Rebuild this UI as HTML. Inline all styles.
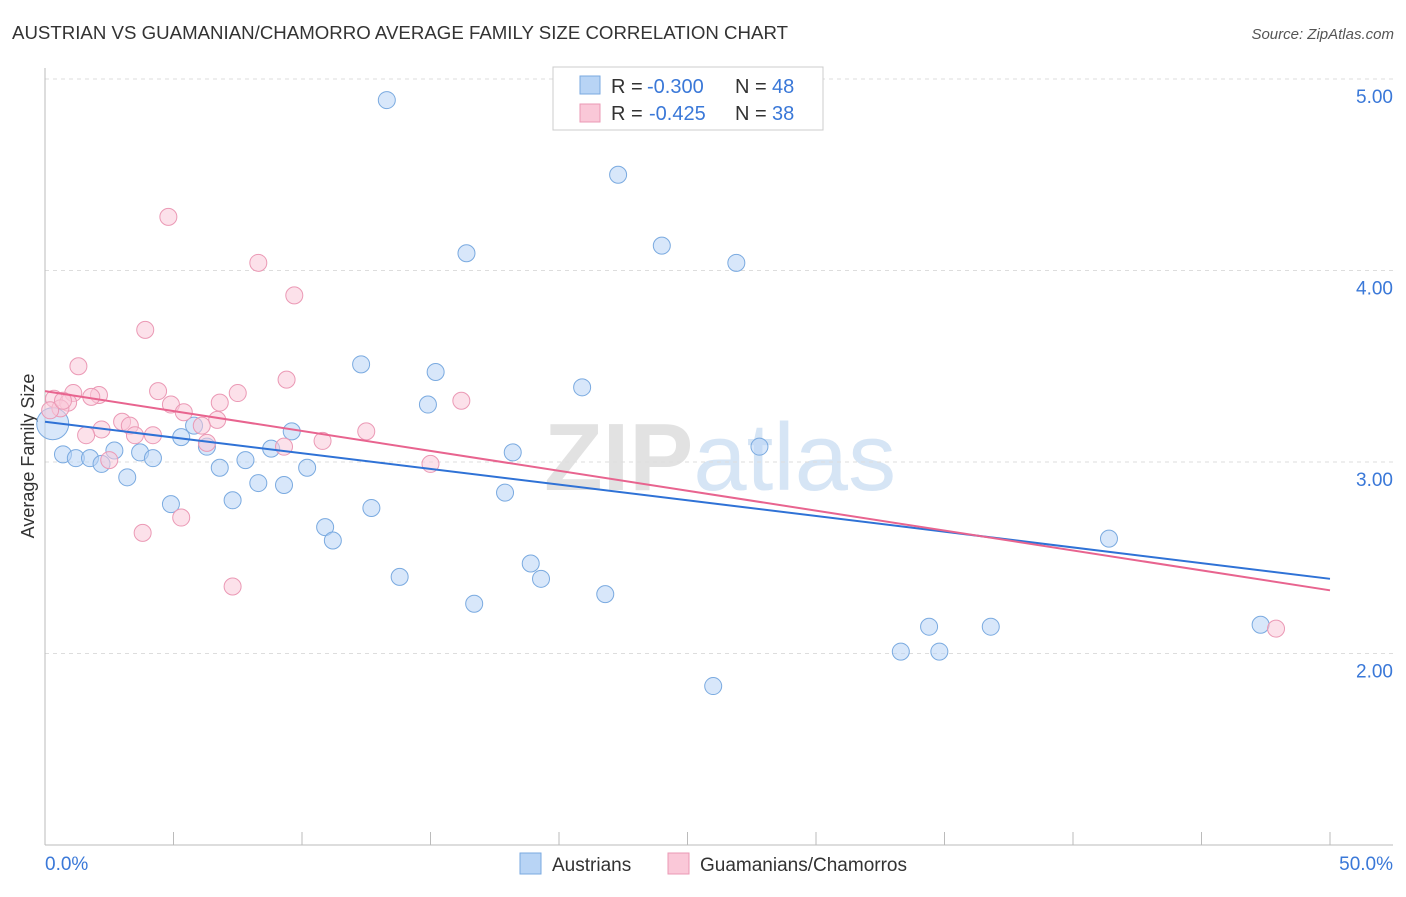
<!DOCTYPE html>
<html><head><meta charset="utf-8"><style>
body{margin:0;background:#fff;font-family:"Liberation Sans",sans-serif;}
svg text{font-family:"Liberation Sans",sans-serif;}
</style></head><body>
<svg id="c" width="1406" height="892">
<text x="12" y="39" font-size="18" fill="#333" textLength="776" lengthAdjust="spacingAndGlyphs">AUSTRIAN VS GUAMANIAN/CHAMORRO AVERAGE FAMILY SIZE CORRELATION CHART</text>
<text x="1394" y="39" font-size="15" fill="#555" text-anchor="end" font-style="italic">Source: ZipAtlas.com</text>
<text x="720" y="490" font-size="96" text-anchor="middle"><tspan font-weight="bold" fill="#e2e2e2">ZIP</tspan><tspan fill="#d6e5f5">atlas</tspan></text>
<text transform="translate(34,456) rotate(-90)" font-size="18" fill="#333" text-anchor="middle">Average Family Size</text>
<g id="grid"></g><g id="marks"></g>
<g>
<rect x="553" y="67" width="270" height="63" fill="#fff" stroke="#ccc"/>
<rect x="580" y="76" width="20" height="18" fill="#b8d4f5" stroke="#7aaae0"/>
<rect x="580" y="104" width="20" height="18" fill="#fac8d8" stroke="#eb99b5"/>
<text x="611" y="93" font-size="20" fill="#333">R =</text>
<text x="647" y="93" font-size="20" fill="#3a78d8">-0.300</text>
<text x="735" y="93" font-size="20" fill="#333">N =</text>
<text x="772" y="93" font-size="20" fill="#3a78d8">48</text>
<text x="611" y="120" font-size="20" fill="#333">R =</text>
<text x="649" y="120" font-size="20" fill="#3a78d8">-0.425</text>
<text x="735" y="120" font-size="20" fill="#333">N =</text>
<text x="772" y="120" font-size="20" fill="#3a78d8">38</text>
</g>
<g>
<rect x="520" y="853" width="21" height="21" fill="#b8d4f5" stroke="#7aaae0"/>
<text x="552" y="871" font-size="19" fill="#333">Austrians</text>
<rect x="668" y="853" width="21" height="21" fill="#fac8d8" stroke="#eb99b5"/>
<text x="700" y="871" font-size="19" fill="#333">Guamanians/Chamorros</text>
</g>
</svg>
<script>
const blueX=[13.3,22.3,16.4,24.0,26.9,12.3,15.2,20.9,14.9,27.8,9.6,5.8,5.3,6.3,8.8,3.7,2.7,0.7,1.2,1.75,2.2,4.2,7.8,6.8,10.2,18.2,3.2,8.3,9.3,7.3,4.9,17.9,12.7,10.9,11.2,18.9,19.3,13.8,16.7,21.8,41.4,34.4,36.8,47.3,33.3,34.8,26.0,0.3];
const blueY=[4.89,4.50,4.09,4.13,4.04,3.51,3.47,3.39,3.30,3.08,3.16,3.19,3.13,3.08,3.07,3.05,3.06,3.04,3.02,3.02,2.99,3.02,3.01,2.97,2.97,3.05,2.92,2.89,2.88,2.80,2.78,2.84,2.76,2.66,2.59,2.47,2.39,2.40,2.26,2.31,2.60,2.14,2.14,2.15,2.01,2.01,1.83,3.20];
const pinkX=[4.8,8.3,9.7,3.9,1.3,9.4,4.4,7.5,16.2,0.35,1.1,2.1,1.8,0.9,0.6,6.8,4.9,5.4,3.0,6.7,12.5,3.3,2.2,1.6,4.2,3.5,6.3,10.8,9.3,2.5,15.0,5.3,3.8,7.3,47.9,6.1,0.2,0.7];
const pinkY=[4.28,4.04,3.87,3.69,3.50,3.43,3.37,3.36,3.32,3.33,3.36,3.35,3.34,3.31,3.28,3.31,3.30,3.26,3.21,3.22,3.16,3.19,3.17,3.14,3.14,3.14,3.10,3.11,3.08,3.01,2.99,2.71,2.63,2.35,2.13,3.19,3.27,3.32];
const blueTrend=[3.21,2.39];
const pinkTrend=[3.37,2.33];
const yTicks=[2,3,4,5];
const xTicks=[0,5,10,15,20,25,30,35,40,45,50];
const NS="http://www.w3.org/2000/svg";
const sx=v=>45+v*25.7, sy=v=>79+(5-v)*191.5;
function mk(t,a,p){const e=document.createElementNS(NS,t);for(const k in a)e.setAttribute(k,a[k]);p.appendChild(e);return e;}
const g=document.getElementById('grid'),m=document.getElementById('marks');
yTicks.forEach(v=>{
 const l=mk('line',{x1:45,x2:1393,y1:sy(v),y2:sy(v),stroke:'#ddd','stroke-dasharray':'4,4'},g);
 
 
 const t=mk('text',{x:1393,y:sy(v)+24,'font-size':19,fill:'#3a78d8','text-anchor':'end'},g);t.textContent=v.toFixed(2);
 
 
});
mk('line',{x1:45,x2:45,y1:68,y2:845,stroke:'#bbb'},g);
mk('line',{x1:45,x2:1393,y1:845,y2:845,stroke:'#bbb'},g);
xTicks.forEach(v=>{
 const l=mk('line',{x1:sx(v),x2:sx(v),y1:832,y2:845,stroke:'#bbb'},g);
 
 
});
[[0,'0.0%','start',45],[50,'50.0%','end',1393]].forEach(d=>{
 const t=mk('text',{x:d[3],y:870,'font-size':19,fill:'#3a78d8','text-anchor':d[2]},g);t.textContent=d[1];
 
 
});
function pts(X,Y,f,s,name){X.forEach((x,i)=>{
 const r=(name==='austrian-point'&&i===X.length-1)?16:8.5;
 const c=mk('circle',{cx:sx(x),cy:sy(Y[i]),r:r,fill:f,'fill-opacity':0.55,stroke:s,'stroke-width':1},m);
 
 
});}
pts(blueX,blueY,'#b8d4f5','#7aaae0','austrian-point');
pts(pinkX,pinkY,'#fac8d8','#eb99b5','guamanian-point');
const bl=mk('line',{x1:sx(0),y1:sy(blueTrend[0]),x2:sx(50),y2:sy(blueTrend[1]),stroke:'#2f72d6','stroke-width':2},m);


const pl=mk('line',{x1:sx(0),y1:sy(pinkTrend[0]),x2:sx(50),y2:sy(pinkTrend[1]),stroke:'#e8648f','stroke-width':2},m);


</script>
</body></html>
